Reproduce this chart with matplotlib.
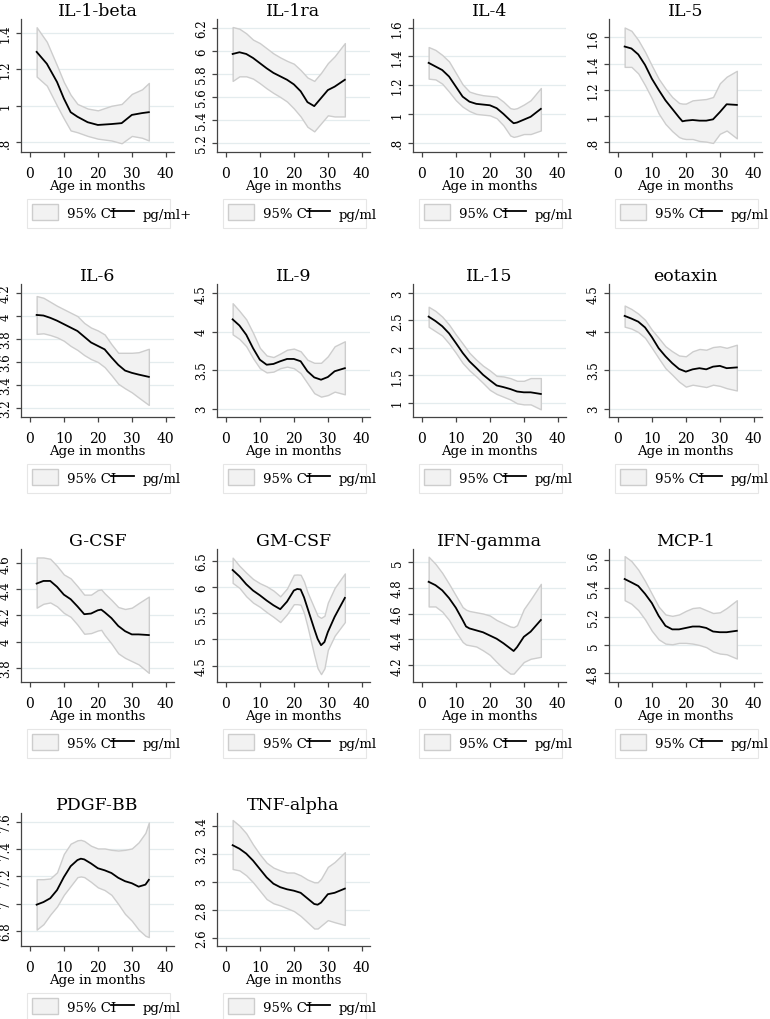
import matplotlib
matplotlib.use('Agg')
import matplotlib.pyplot as plt
from matplotlib.patches import Rectangle

plt.rcParams['font.family'] = ['DejaVu Serif']

AGE = [2, 4, 6, 8, 10, 12, 14, 16, 18, 20, 22, 24, 26, 28, 30, 32, 35]

# IL-1-beta
IL1B_AGE = [2, 5, 8, 10, 12, 14, 17, 20, 24, 27, 30, 33, 35]
IL1B_MEAN = [1.295, 1.23, 1.13, 1.04, 0.965, 0.94, 0.91, 0.895, 0.90, 0.905, 0.95, 0.96, 0.965]
IL1B_HI = [1.43, 1.35, 1.22, 1.13, 1.06, 1.01, 0.985, 0.975, 1.0, 1.01, 1.065, 1.09, 1.125]
IL1B_LO = [1.16, 1.11, 1.0, 0.93, 0.865, 0.855, 0.835, 0.82, 0.81, 0.795, 0.835, 0.825, 0.81]

# IL-1ra
IL1RA_MEAN = [5.975, 5.99, 5.975, 5.94, 5.895, 5.85, 5.81, 5.78, 5.75, 5.71, 5.65, 5.555, 5.52, 5.59, 5.66, 5.69, 5.75]
IL1RA_HI = [6.21, 6.195, 6.155, 6.1, 6.07, 6.025, 5.98, 5.945, 5.915, 5.89, 5.835, 5.77, 5.74, 5.81, 5.895, 5.955, 6.07]
IL1RA_LO = [5.74, 5.78, 5.78, 5.76, 5.72, 5.675, 5.635, 5.6, 5.56, 5.5, 5.43, 5.34, 5.3, 5.37, 5.44, 5.43, 5.43]

# IL-4
IL4_AGE = [2, 4, 6, 8, 10, 12, 14, 16, 18, 20, 22, 24, 26, 27, 28, 30, 32, 35]
IL4_MEAN = [1.355, 1.33, 1.305, 1.26, 1.19, 1.12, 1.085, 1.07, 1.065, 1.06, 1.04, 1.0, 0.955, 0.935, 0.94, 0.96, 0.98, 1.035]
IL4_HI = [1.465, 1.445, 1.41, 1.365, 1.285, 1.205, 1.155, 1.14, 1.13, 1.125, 1.12, 1.085, 1.04, 1.035, 1.04, 1.065, 1.095, 1.18]
IL4_LO = [1.245, 1.24, 1.21, 1.155, 1.095, 1.05, 1.02, 1.0, 0.995, 0.99, 0.97, 0.92, 0.85, 0.84, 0.845, 0.86, 0.86, 0.885]

# IL-5
IL5_AGE = [2, 4, 6, 8, 10, 12, 14, 16, 18, 19, 20, 22, 24, 26, 28, 30, 32, 35]
IL5_MEAN = [1.53, 1.515, 1.47, 1.39, 1.285, 1.2, 1.12, 1.055, 0.99, 0.96, 0.965, 0.97, 0.965, 0.965, 0.975, 1.03, 1.09, 1.085]
IL5_HI = [1.675, 1.65, 1.58, 1.49, 1.385, 1.285, 1.21, 1.145, 1.1, 1.095, 1.095, 1.12, 1.125, 1.13, 1.145, 1.25, 1.3, 1.345]
IL5_LO = [1.375, 1.375, 1.325, 1.235, 1.135, 1.02, 0.94, 0.885, 0.84, 0.83, 0.825, 0.825, 0.81, 0.805, 0.795, 0.865, 0.89, 0.83]

# IL-6
IL6_MEAN = [4.01, 4.005, 3.985, 3.96, 3.93, 3.90, 3.87, 3.82, 3.77, 3.74, 3.71, 3.64, 3.575, 3.525, 3.505, 3.49, 3.47]
IL6_HI = [4.175, 4.16, 4.125, 4.09, 4.06, 4.03, 4.0, 3.94, 3.9, 3.875, 3.84, 3.755, 3.68, 3.68, 3.68, 3.685, 3.715]
IL6_LO = [3.845, 3.85, 3.835, 3.815, 3.785, 3.74, 3.705, 3.66, 3.625, 3.6, 3.555, 3.485, 3.41, 3.37, 3.335, 3.29, 3.225]

# IL-9
IL9_MEAN = [4.16, 4.08, 3.96, 3.785, 3.635, 3.57, 3.58, 3.615, 3.645, 3.645, 3.615, 3.485, 3.405, 3.375, 3.41, 3.485, 3.525]
IL9_HI = [4.37, 4.27, 4.16, 3.985, 3.79, 3.69, 3.67, 3.715, 3.765, 3.78, 3.745, 3.635, 3.595, 3.595, 3.68, 3.81, 3.875]
IL9_LO = [3.965, 3.905, 3.81, 3.655, 3.525, 3.47, 3.48, 3.525, 3.545, 3.525, 3.46, 3.33, 3.2, 3.155, 3.175, 3.22, 3.185]

# IL-15
IL15_MEAN = [2.57, 2.49, 2.395, 2.265, 2.09, 1.91, 1.755, 1.635, 1.51, 1.41, 1.315, 1.285, 1.25, 1.205, 1.19, 1.19, 1.16]
IL15_HI = [2.75, 2.675, 2.57, 2.425, 2.245, 2.08, 1.91, 1.785, 1.675, 1.59, 1.49, 1.48, 1.45, 1.4, 1.4, 1.45, 1.45]
IL15_LO = [2.385, 2.305, 2.225, 2.08, 1.91, 1.725, 1.59, 1.48, 1.36, 1.235, 1.16, 1.11, 1.06, 0.99, 0.97, 0.97, 0.88]

# eotaxin
EOT_MEAN = [4.205, 4.17, 4.13, 4.055, 3.93, 3.785, 3.68, 3.59, 3.515, 3.48, 3.51, 3.525, 3.51, 3.545, 3.555, 3.525, 3.535]
EOT_HI = [4.34, 4.295, 4.235, 4.155, 4.025, 3.92, 3.81, 3.745, 3.69, 3.68, 3.745, 3.775, 3.765, 3.8, 3.81, 3.79, 3.83]
EOT_LO = [4.065, 4.04, 3.995, 3.92, 3.79, 3.655, 3.525, 3.44, 3.35, 3.285, 3.31, 3.295, 3.28, 3.31, 3.295, 3.265, 3.235]

# G-CSF
GCSF_AGE = [2, 4, 6, 8, 10, 12, 14, 16, 18, 20, 21, 22, 24, 26, 28, 30, 32, 35]
GCSF_MEAN = [4.445, 4.465, 4.465, 4.42, 4.36, 4.325, 4.27, 4.21, 4.215, 4.24, 4.245, 4.225, 4.18, 4.12, 4.08, 4.055, 4.055, 4.05]
GCSF_HI = [4.645, 4.645, 4.635, 4.58, 4.515, 4.485, 4.425, 4.36, 4.36, 4.395, 4.40, 4.37, 4.32, 4.265, 4.25, 4.26, 4.295, 4.345]
GCSF_LO = [4.26, 4.29, 4.3, 4.27, 4.22, 4.19, 4.13, 4.06, 4.065, 4.085, 4.09, 4.05, 3.985, 3.91, 3.875, 3.85, 3.825, 3.76]

# GM-CSF
GMCSF_AGE = [2, 4, 6, 8, 10, 12, 14, 16, 18, 20, 21, 22, 23, 24, 26, 27, 28, 29, 30, 32, 35]
GMCSF_MEAN = [6.32, 6.2, 6.05, 5.93, 5.84, 5.74, 5.65, 5.575, 5.72, 5.93, 5.96, 5.95, 5.8, 5.6, 5.2, 5.01, 4.89, 4.95, 5.14, 5.43, 5.79]
GMCSF_HI = [6.555, 6.4, 6.27, 6.15, 6.07, 6.01, 5.93, 5.82, 5.97, 6.23, 6.235, 6.23, 6.1, 5.9, 5.6, 5.45, 5.41, 5.45, 5.7, 5.98, 6.255]
GMCSF_LO = [6.075, 5.98, 5.82, 5.7, 5.62, 5.52, 5.43, 5.33, 5.48, 5.67, 5.67, 5.66, 5.5, 5.25, 4.7, 4.45, 4.34, 4.45, 4.8, 5.07, 5.33]

# IFN-gamma
IFN_AGE = [2, 4, 6, 8, 10, 12, 13, 14, 16, 18, 20, 22, 24, 26, 27, 28, 30, 32, 35]
IFN_MEAN = [4.846, 4.82, 4.78, 4.72, 4.645, 4.55, 4.5, 4.485, 4.47, 4.455, 4.43, 4.405, 4.37, 4.33, 4.31, 4.34, 4.42, 4.46, 4.55]
IFN_HI = [5.04, 4.985, 4.915, 4.83, 4.74, 4.65, 4.63, 4.62, 4.61, 4.6, 4.585, 4.55, 4.525, 4.5, 4.495, 4.51, 4.635, 4.71, 4.83]
IFN_LO = [4.655, 4.655, 4.615, 4.55, 4.46, 4.38, 4.36, 4.355, 4.345, 4.315, 4.28, 4.225, 4.175, 4.135, 4.135, 4.165, 4.225, 4.25, 4.265]

# MCP-1
MCP_MEAN = [5.464, 5.44, 5.415, 5.36, 5.295, 5.205, 5.135, 5.11, 5.11, 5.12, 5.13, 5.13, 5.12, 5.095, 5.09, 5.09, 5.1]
MCP_HI = [5.625, 5.59, 5.53, 5.45, 5.36, 5.27, 5.215, 5.205, 5.215, 5.24, 5.26, 5.265, 5.245, 5.225, 5.23, 5.26, 5.315]
MCP_LO = [5.315, 5.29, 5.245, 5.18, 5.1, 5.04, 5.01, 5.005, 5.015, 5.015, 5.01, 5.0, 4.985, 4.955, 4.94, 4.935, 4.905]

# PDGF-BB
PDGF_AGE = [2, 4, 6, 8, 10, 12, 14, 15, 16, 18, 20, 22, 24, 26, 28, 30, 32, 34, 35]
PDGF_MEAN = [6.993, 7.012, 7.04, 7.1, 7.195, 7.275, 7.32, 7.33, 7.325, 7.295, 7.26, 7.245, 7.225, 7.19, 7.165, 7.15, 7.125, 7.14, 7.175]
PDGF_HI = [7.18, 7.18, 7.185, 7.23, 7.365, 7.44, 7.465, 7.468, 7.46, 7.425, 7.405, 7.405, 7.395, 7.39, 7.395, 7.405, 7.45, 7.52, 7.595]
PDGF_LO = [6.81, 6.85, 6.92, 6.98, 7.065, 7.13, 7.195, 7.2, 7.195, 7.16, 7.12, 7.1, 7.065, 6.998, 6.925, 6.875, 6.81, 6.765, 6.755]

# TNF-alpha
TNF_AGE = [2, 4, 6, 8, 10, 12, 14, 16, 18, 20, 22, 24, 26, 27, 28, 30, 32, 35]
TNF_MEAN = [3.26, 3.235, 3.2, 3.15, 3.09, 3.03, 2.985, 2.96, 2.945, 2.935, 2.92, 2.88, 2.84, 2.835, 2.85, 2.91, 2.92, 2.95]
TNF_HI = [3.44, 3.4, 3.345, 3.265, 3.195, 3.135, 3.1, 3.08, 3.065, 3.065, 3.045, 3.015, 2.995, 2.995, 3.02, 3.105, 3.14, 3.21]
TNF_LO = [3.09, 3.08, 3.045, 2.995, 2.935, 2.875, 2.845, 2.83, 2.81, 2.79, 2.755, 2.71, 2.665, 2.665, 2.685, 2.725, 2.71, 2.69]

# y ticks shown on each panel
TICKS = {
    'IL-1-beta': [0.8, 1, 1.2, 1.4], 'IL-1ra': [5.2, 5.4, 5.6, 5.8, 6, 6.2],
    'IL-4': [0.8, 1, 1.2, 1.4, 1.6], 'IL-5': [0.8, 1, 1.2, 1.4, 1.6],
    'IL-6': [3.2, 3.4, 3.6, 3.8, 4, 4.2], 'IL-9': [3, 3.5, 4, 4.5],
    'IL-15': [1, 1.5, 2, 2.5, 3], 'eotaxin': [3, 3.5, 4, 4.5],
    'G-CSF': [3.8, 4, 4.2, 4.4, 4.6], 'GM-CSF': [4.5, 5, 5.5, 6, 6.5],
    'IFN-gamma': [4.2, 4.4, 4.6, 4.8, 5], 'MCP-1': [4.8, 5, 5.2, 5.4, 5.6],
    'PDGF-BB': [6.8, 7, 7.2, 7.4, 7.6], 'TNF-alpha': [2.6, 2.8, 3, 3.2, 3.4],
}

panels = [
    ('IL-1-beta', IL1B_AGE, IL1B_MEAN, IL1B_LO, IL1B_HI, (0.747, 1.475), 'pg/ml+'),
    ('IL-1ra', AGE, IL1RA_MEAN, IL1RA_LO, IL1RA_HI, (5.12, 6.28), 'pg/ml'),
    ('IL-4', IL4_AGE, IL4_MEAN, IL4_LO, IL4_HI, (0.735, 1.66), 'pg/ml'),
    ('IL-5', IL5_AGE, IL5_MEAN, IL5_LO, IL5_HI, (0.726, 1.74), 'pg/ml'),
    ('IL-6', AGE, IL6_MEAN, IL6_LO, IL6_HI, (3.12, 4.28), 'pg/ml'),
    ('IL-9', AGE, IL9_MEAN, IL9_LO, IL9_HI, (2.89, 4.62), 'pg/ml'),
    ('IL-15', AGE, IL15_MEAN, IL15_LO, IL15_HI, (0.74, 3.165), 'pg/ml'),
    ('eotaxin', AGE, EOT_MEAN, EOT_LO, EOT_HI, (2.89, 4.62), 'pg/ml'),
    ('G-CSF', GCSF_AGE, GCSF_MEAN, GCSF_LO, GCSF_HI, (3.69, 4.71), 'pg/ml'),
    ('GM-CSF', GMCSF_AGE, GMCSF_MEAN, GMCSF_LO, GMCSF_HI, (4.19, 6.72), 'pg/ml'),
    ('IFN-gamma', IFN_AGE, IFN_MEAN, IFN_LO, IFN_HI, (4.07, 5.10), 'pg/ml'),
    ('MCP-1', AGE, MCP_MEAN, MCP_LO, MCP_HI, (4.74, 5.675), 'pg/ml'),
    ('PDGF-BB', PDGF_AGE, PDGF_MEAN, PDGF_LO, PDGF_HI, (6.69, 7.665), 'pg/ml'),
    ('TNF-alpha', TNF_AGE, TNF_MEAN, TNF_LO, TNF_HI, (2.54, 3.49), 'pg/ml'),
]

W, H = 770, 1020
LEFTS = [21, 217, 413, 609]
TOPS = [20, 285, 550, 814]
AW, AH = 153, 133
CI_FILL, CI_EDGE, AXC = '#f2f2f2', '#cdcdcd', '#444444'


def stata_num(v):
    s = f'{v:g}'
    return s[1:] if s.startswith('0.') else s


def stata_legend(ax, unit):
    # boxed key below the plot (pixel offsets from the axes' lower-left corner)
    ax.add_patch(Rectangle((6 / AW, -76 / AH), 143 / AW, 29 / AH, transform=ax.transAxes,
                           clip_on=False, facecolor='white', edgecolor='#e6e6e6', lw=0.8))
    ax.add_patch(Rectangle((11 / AW, -68 / AH), 26 / AW, 16 / AH, transform=ax.transAxes,
                           clip_on=False, facecolor=CI_FILL, edgecolor=CI_EDGE, lw=1))
    ty = -62 / AH
    ax.text(46 / AW, ty, '95% CI', transform=ax.transAxes, fontsize=9.5, va='center', ha='left')
    ax.plot([90 / AW, 113 / AW], [-59 / AH] * 2, transform=ax.transAxes, clip_on=False,
            color='black', lw=1.3)
    ax.text(122 / AW, ty, unit, transform=ax.transAxes, fontsize=9.5, va='center', ha='left')


fig = plt.figure(figsize=(W / 100, H / 100), dpi=100)
for i, (name, age, mean, lo, hi, ylim, unit) in enumerate(panels):
    r, c = divmod(i, 4)
    ax = fig.add_axes([LEFTS[c] / W, 1 - (TOPS[r] + AH) / H, AW / W, AH / H])
    ax.fill_between(age, lo, hi, facecolor=CI_FILL, edgecolor=CI_EDGE, lw=1, zorder=2)
    ax.plot(age, mean, color='black', lw=1.3, zorder=3)
    ax.set_xlim(-2.6, 42.4); ax.set_ylim(*ylim)
    ax.set_xticks([0, 10, 20, 30, 40])
    ax.set_yticks(TICKS[name])
    ax.set_yticklabels([stata_num(v) for v in TICKS[name]], rotation=90, va='center')
    ax.grid(axis='y', color='#e4ecee', lw=0.9, zorder=0); ax.set_axisbelow(True)
    for s in ('top', 'right'):
        ax.spines[s].set_visible(False)
    for s in ('left', 'bottom'):
        ax.spines[s].set_color(AXC); ax.spines[s].set_linewidth(0.9)
    ax.tick_params(direction='out', length=3.6, width=0.9, color=AXC)
    ax.tick_params(axis='x', labelsize=10, pad=6.5)
    ax.tick_params(axis='y', labelsize=8.5, pad=3)
    ax.set_title(name, fontsize=12.5, pad=3)
    ax.set_xlabel('Age in months', fontsize=9.5, labelpad=-0.5)
    stata_legend(ax, unit)

fig.savefig('out.png', dpi=100, facecolor='white')
